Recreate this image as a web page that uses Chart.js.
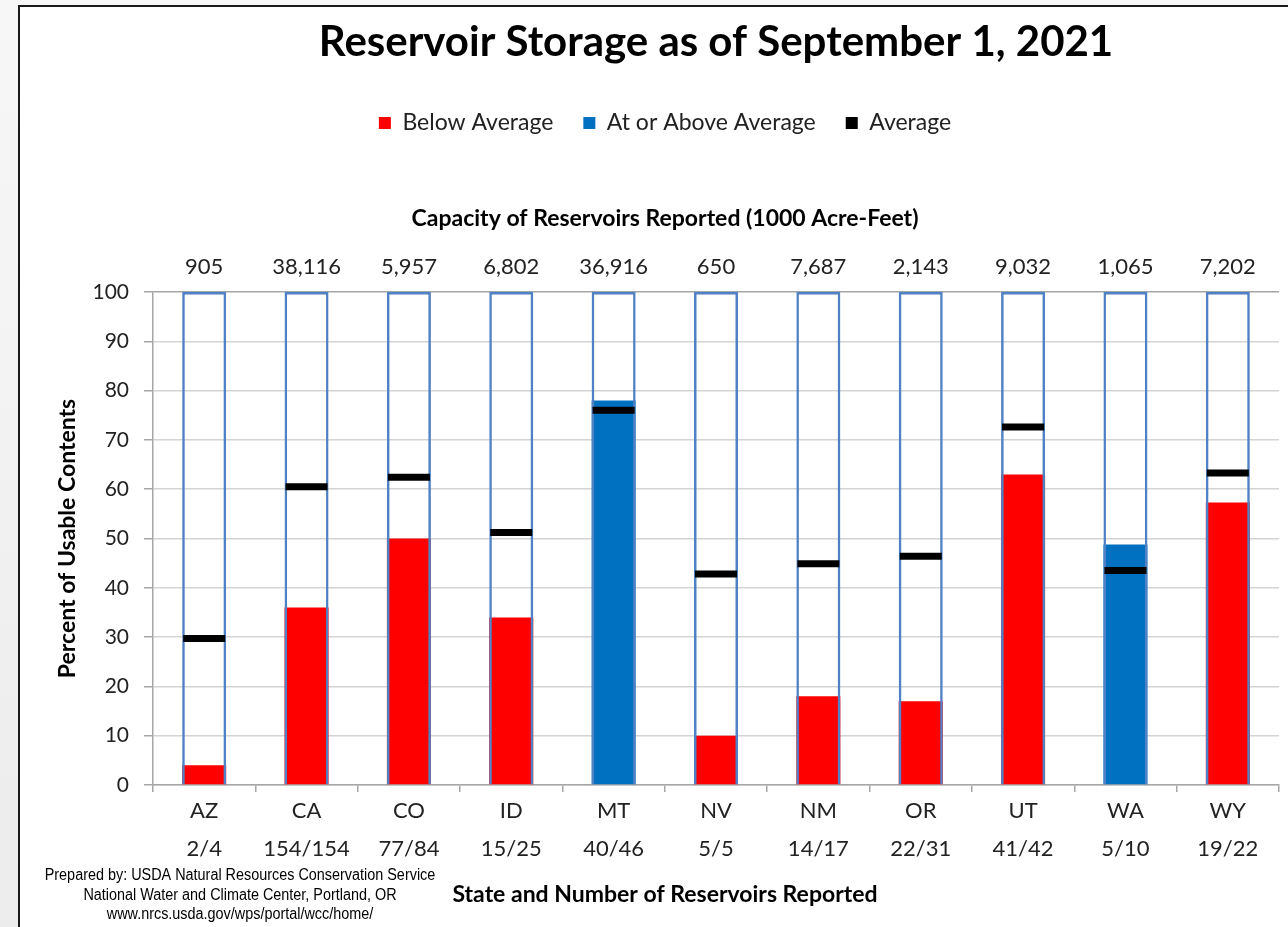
<!DOCTYPE html>
<html>
<head>
<meta charset="utf-8">
<title>Reservoir Storage</title>
<script src="https://cdn.jsdelivr.net/npm/chart.js@4.4.1/dist/chart.umd.min.js"></script>
<style>
    html, body {
        margin: 0;
        height: 100%;
        overflow: hidden;
        background: linear-gradient(to bottom, #f7f7f7, #ececec);
    }
    #frame {
        position: absolute;
        left: 18px;
        top: 5px;
        border-left: 2px solid #1a1a1a;
        border-top: 2px solid #1a1a1a;
        background: #fff;
    }
    #chart-box {
        position: relative;
        width: 1290px;
        height: 920px;
    }
</style>
</head>
<body>
<div id="frame">
    <div id="chart-box"><canvas id="storage-chart"></canvas></div>
</div>
<script>
const states = ['AZ', 'CA', 'CO', 'ID', 'MT', 'NV', 'NM', 'OR', 'UT', 'WA', 'WY'];
const reservoirsReported = ['2/4', '154/154', '77/84', '15/25', '40/46', '5/5', '14/17', '22/31', '41/42', '5/10', '19/22'];
const capacityKaf = [905, 38116, 5957, 6802, 36916, 650, 7687, 2143, 9032, 1065, 7202];
const percentFull = [4, 36, 50, 34, 78, 10, 18, 17, 63, 48.8, 57.3];
const percentAverage = [29.7, 60.5, 62.4, 51.2, 76, 42.8, 44.9, 46.4, 72.6, 43.5, 63.3];

const creditLines = [
    'Prepared by: USDA Natural Resources Conservation Service',
    'National Water and Climate Center, Portland, OR',
    'www.nrcs.usda.gov/wps/portal/wcc/home/'
];
const xAxisCaption = 'State and Number of Reservoirs Reported';

const fontFamily = 'Lato, "Open Sans", sans-serif';
const frameBlue = '#4f81c4';
const axisGray = '#a6a6a6';

// Split each state's storage into the red (below) or blue (at/above) series
const belowAverage = percentFull.map((v, i) => (v < percentAverage[i] ? v : null));
const aboveAverage = percentFull.map((v, i) => (v >= percentAverage[i] ? v : null));
const fullCapacity = states.map(() => 100);

const legendOrder = ['Below Average', 'At or Above Average', 'Average'];

// Axis caption and credit block under the category labels
const footerNotes = {
    id: 'footerNotes',
    afterDraw(chart) {
        const { ctx, chartArea } = chart;
        ctx.save();
        ctx.fillStyle = '#000';
        ctx.textAlign = 'center';
        ctx.textBaseline = 'middle';
        ctx.font = `bold 23px ${fontFamily}`;
        ctx.fillText(xAxisCaption, chart.width / 2, chartArea.bottom + 110);
        // narrow sans: squeeze regular Liberation Sans horizontally
        ctx.font = '16px "Liberation Sans", Arial, sans-serif';
        creditLines.forEach((line, i) => {
            ctx.save();
            ctx.translate(220, chartArea.bottom + 91 + i * 19.5);
            ctx.scale(0.9, 1);
            ctx.fillText(line, 0, 0);
            ctx.restore();
        });
        ctx.restore();
    }
};

const ctx = document.getElementById('storage-chart').getContext('2d');
new Chart(ctx, {
    type: 'bar',
    data: {
        labels: states.map((s, i) => [s, reservoirsReported[i]]),
        datasets: [
            {
                type: 'line',
                label: 'Average',
                data: percentAverage,
                showLine: false,
                pointStyle: 'line',
                pointRadius: 21,
                pointHoverRadius: 21,
                pointBorderWidth: 7,
                pointBorderColor: '#000',
                backgroundColor: '#000',
                borderColor: '#000',
                borderWidth: 0,
                order: 0
            },
            {
                label: 'Capacity',
                data: fullCapacity,
                backgroundColor: 'rgba(0, 0, 0, 0)',
                borderColor: frameBlue,
                borderWidth: 2.5,
                grouped: false,
                barPercentage: 0.43,
                categoryPercentage: 1,
                order: 1
            },
            {
                label: 'Below Average',
                data: belowAverage,
                backgroundColor: '#ff0000',
                borderWidth: 0,
                grouped: false,
                barPercentage: 0.43,
                categoryPercentage: 1,
                order: 2
            },
            {
                label: 'At or Above Average',
                data: aboveAverage,
                backgroundColor: '#0070c0',
                borderWidth: 0,
                grouped: false,
                barPercentage: 0.43,
                categoryPercentage: 1,
                order: 3
            }
        ]
    },
    options: {
        responsive: true,
        maintainAspectRatio: false,
        animation: false,
        events: [],
        layout: { padding: 0 },
        plugins: {
            title: {
                display: true,
                text: 'Reservoir Storage as of September 1, 2021',
                fullSize: false,
                color: '#000',
                font: { family: fontFamily, size: 42, weight: 'bold' },
                padding: { top: 10, bottom: 14 }
            },
            legend: {
                position: 'top',
                labels: {
                    boxWidth: 12,
                    boxHeight: 12,
                    padding: 30,
                    color: '#222',
                    font: { family: fontFamily, size: 23 },
                    filter: item => item.datasetIndex !== 1,
                    sort: (a, b) => legendOrder.indexOf(a.text) - legendOrder.indexOf(b.text)
                }
            },
            subtitle: {
                display: true,
                text: 'Capacity of Reservoirs Reported (1000 Acre-Feet)',
                weight: 500,
                color: '#000',
                font: { family: fontFamily, size: 23, weight: 'bold' },
                padding: { top: 60, bottom: 20 }
            },
            tooltip: { enabled: false }
        },
        scales: {
            x: {
                position: 'bottom',
                grid: {
                    drawOnChartArea: false,
                    offset: true,
                    tickLength: 7,
                    tickColor: axisGray,
                    lineWidth: 1.5
                },
                border: { color: axisGray, width: 1.5 },
                ticks: {
                    color: '#222',
                    padding: 0,
                    maxRotation: 0,
                    autoSkip: false,
                    font: { family: fontFamily, size: 22, lineHeight: 1.72 }
                },
                afterFit: scale => { scale.height = 142; }
            },
            xTop: {
                type: 'category',
                position: 'top',
                labels: capacityKaf.map(v => v.toLocaleString('en-US')),
                offset: true,
                grid: { display: false, drawTicks: false },
                border: { display: false },
                ticks: {
                    color: '#222',
                    padding: 12,
                    maxRotation: 0,
                    autoSkip: false,
                    font: { family: fontFamily, size: 22 }
                },
                afterFit: scale => { scale.height = 40; }
            },
            y: {
                min: 0,
                max: 100,
                ticks: {
                    stepSize: 10,
                    padding: 15,
                    color: '#222',
                    font: { family: fontFamily, size: 21 }
                },
                grid: {
                    color: ctx => (ctx.tick && ctx.tick.value === 100 ? '#a6a6a6' : '#d4d4d4'),
                    lineWidth: 1.5,
                    tickLength: 9,
                    tickColor: axisGray
                },
                border: { color: axisGray, width: 1.5 },
                title: {
                    display: true,
                    text: 'Percent of Usable Contents',
                    color: '#000',
                    font: { family: fontFamily, size: 23, weight: 'bold' },
                    padding: { top: 34, bottom: 0 }
                },
                afterFit: scale => { scale.width = 133; }
            },
            yRight: {
                position: 'right',
                ticks: { display: false },
                grid: { display: false },
                border: { display: false },
                afterFit: scale => { scale.width = 31; }
            }
        }
    },
    plugins: [footerNotes]
});
</script>
</body>
</html>
